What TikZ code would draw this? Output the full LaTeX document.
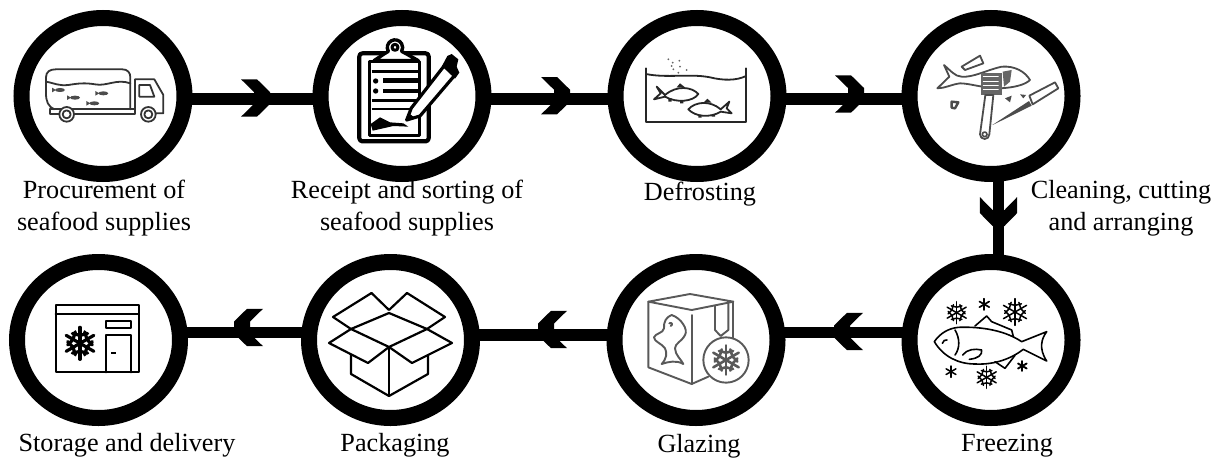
\documentclass[tikz,border=0pt]{standalone}
\usepackage{fontspec}
\setmainfont{Liberation Serif}
\usetikzlibrary{shapes.geometric}
\tikzset{
  x=1pt,y=-1pt,
  stage/.style={draw=black,fill=white,ellipse,line width=16pt,minimum width=163pt,minimum height=156pt,inner sep=0pt,outer sep=0pt},
  lab/.style={font=\fontsize{26.2}{32}\selectfont,align=center,inner sep=0pt,text=black},
  conn/.style={line width=11.7pt,draw=black},
  chev/.pic={\fill[black] (0,-18.7)--(13,-6)--(13,6)--(0,18.7)--(16,18.7)--(29,6)--(29,-6)--(16,-18.7)--cycle;},
  icon/.style={x=.33333pt,y=-.33333pt,line join=round,line cap=round},
}
\newcommand{\myflake}[5]{% x y r lw colour
 \begin{scope}[shift={(#1,#2)}]
  \foreach \a in {30,90,150,210,270,330}{
   \draw[#5,line width=#4pt] (0,0)--(\a:#3);
   \draw[#5,line width=#4pt] (\a-38:{0.78*#3})--(\a:{0.5*#3})--(\a+38:{0.78*#3});
  }
 \end{scope}}
\newcommand{\mystar}[4]{%
 \begin{scope}[shift={(#1,#2)}]
  \foreach \a in {30,90,150}{\draw[black,line width=#4pt] (\a:#3)--(\a+180:#3);}
 \end{scope}}
\begin{document}
\begin{tikzpicture}
\useasboundingbox (0,0) rectangle (1230,460);
\fill[white] (0,0) rectangle (1230,460);
% stages
\node[stage] (c1) at (103,96) {};
\node[stage] (c2) at (402,96) {};
\node[stage] (c3) at (697,96) {};
\node[stage] (c4) at (991,96) {};
\node[stage] (c5) at (991,340) {};
\node[stage] (c6) at (696,340) {};
\node[stage] (c7) at (390.5,340) {};
\node[stage] (c8) at (98.5,340) {};
% labels
\node[lab] (l1) at (104,208.5) {Procurement of\\seafood supplies};
\node[lab] (l2) at (407,208.5) {Receipt and sorting of\\seafood supplies};
\node[lab] (l3) at (700,194) {Defrosting};
\node[lab] (l4) at (1121,208.5) {Cleaning, cutting\\and arranging};
\node[lab] (l5) at (1007,446) {Freezing};
\node[lab] (l6) at (699,446) {Glazing};
\node[lab] (l7) at (395,445) {Packaging};
\node[lab] (l8) at (127,445) {Storage and delivery};
% connectors
\draw[conn] ([shift={(-2pt,-3pt)}]c1.east)--([shift={(2pt,-3pt)}]c2.west);
\draw[conn] ([shift={(-2pt,-3pt)}]c2.east)--([shift={(2pt,-3pt)}]c3.west);
\draw[conn] ([shift={(-2pt,-3pt)}]c3.east)--([shift={(2pt,-3pt)}]c4.west);
\draw[conn] ([shift={(7.5pt,2pt)}]c4.south)--([shift={(7.5pt,-2pt)}]c5.north);
\draw[conn] ([shift={(2pt,7.5pt)}]c5.west)--([shift={(-2pt,7.5pt)}]c6.east);
\draw[conn] ([shift={(2pt,5pt)}]c6.west)--([shift={(-2pt,5pt)}]c7.east);
\draw[conn] ([shift={(2pt,7.5pt)}]c7.west)--([shift={(-2pt,7.5pt)}]c8.east);
\pic at (241,98) {chev};
\pic at (541,95.7) {chev};
\pic at (835,94) {chev};
\pic[rotate=-90] at (998.5,197) {chev};
\pic[rotate=180] at (863,331.5) {chev};
\pic[rotate=180] at (567,329.5) {chev};
\pic[rotate=180] at (263,327.5) {chev};
% truck
\begin{scope}[shift={(35,50)},icon]
 \begin{scope}[line width=1.8pt]
 \draw[black!80] (33,95)--(33,82) .. controls (33,65) and (45,58) .. (62,58)--(262,58) .. controls (278,58) and (286,68) .. (286,82)--(286,178);
 \draw[black!80] (33,95)--(33,130) .. controls (33,155) and (40,170) .. (58,178);
 \draw[black!80] (33,95) .. controls (60,100) and (70,108) .. (100,105) .. controls (130,100) and (150,98) .. (180,103) .. controls (215,110) and (245,85) .. (286,100);
 \draw[black!80] (45,178)--(300,178)--(300,192)--(45,192)--cycle;
 \draw[black!80] (300,178)--(300,88)--(358,88)--(385,135)--(385,190)--(362,190);
 \draw[black!80] (313,105)--(345,105)--(358,140)--(313,140)--cycle;
 \end{scope}
 \foreach \p in {(75,120),(120,143),(205,130),(178,160)}{
  \fill[black!70] \p ellipse (15 and 6);
  \fill[black!70] \p ++(-24,-7)--++(12,7)--++(-12,7)--cycle;
 }
 \foreach \p in {(95,193),(340,193)}{
  \fill[white] \p circle (23);
  \draw[black!80,line width=1.8pt] \p circle (22);
  \draw[black!80,line width=1.8pt] \p circle (12);
 }
\end{scope}
% clipboard
\begin{scope}[shift={(340,30)},icon]
 \draw[black,line width=4.2pt,rounded corners=3pt] (58,70) rectangle (266,334);
 \draw[black,line width=2.6pt] (88,95) rectangle (238,316);
 \filldraw[black,fill=white,line width=3.4pt] (102,92)--(132,72)--(145,64) arc (150:390:23) --(200,72)--(235,92)--cycle;
 \filldraw[black,fill=white,line width=3pt] (165,52) circle (9);
 \foreach \y/\l/\w in {125/95/2.6,152/130/5,183/130/3.4,212/95/2.8,237/95/2.8}{\draw[black,line width=\w pt,line cap=butt] (\l,\y)--(235,\y);}
 \fill[black] (107,153) circle (8) (107,183) circle (8);
 \fill[black] (92,282)--(120,262)--(150,277)--(190,280)--(205,290)--(160,288)--(125,296)--(98,302)--cycle;
 \filldraw[black,fill=white,line width=3.2pt] (200,270)--(214,234)--(312,108)--(345,135)--(240,258)--cycle;
 \fill[black] (198,274)--(207,250)--(224,263)--cycle;
 \fill[black] (306,108)--(322,78)--(335,72)--(355,88)--(350,110)--(358,128)--(345,146)--cycle;
\end{scope}
% defrosting tank
\begin{scope}[shift={(630,50)},icon]
 \draw[black!85,line width=1.8pt] (48,55)--(48,215)--(348,215)--(348,55);
 \draw[black!85,line width=1.8pt] (48,72) .. controls (110,85) and (180,70) .. (240,82) .. controls (280,92) and (320,92) .. (348,78);
 \foreach \p in {(115,28),(128,38),(148,32),(130,58),(150,50),(170,60),(145,68),(125,48)}{\fill[black!60] \p circle (3);}
 \draw[black!85,line width=1.8pt] (205,132) .. controls (185,110) and (140,105) .. (105,135)--(80,110)--(92,130)--(72,148)--(105,140) .. controls (140,160) and (190,155) .. (205,132)--cycle;
 \fill[black!85] (140,112)--(150,100)--(165,112)--cycle (115,145) rectangle (125,155) (150,152) rectangle (160,160);
 \draw[black!85,line width=1.8pt] (175,178) .. controls (195,155) and (240,150) .. (272,178)--(298,155)--(290,175)--(305,190)--(272,185) .. controls (240,205) and (195,200) .. (175,178)--cycle;
 \fill[black!85] (220,158)--(232,146)--(245,158)--cycle (205,195) rectangle (215,203) (245,193) rectangle (255,200);
\end{scope}
% cleaning
\begin{scope}[shift={(930,45)},icon]
 \draw[black!70,line width=1.8pt] (22,130)--(58,95)--(42,60) .. controls (60,75) and (75,95) .. (95,95) .. controls (130,98) and (170,75) .. (215,65) .. controls (255,62) and (285,80) .. (300,105) .. controls (285,120) and (250,128) .. (210,130) .. controls (160,130) and (120,115) .. (90,115) .. controls (65,118) and (45,130) .. (22,130)--cycle;
 \draw[black!70,line width=1.8pt] (95,65)--(150,32)--(160,55)--(105,75)--cycle;
 \fill[black!60] (152,84) rectangle (215,150);
 \foreach \y in {95,108,121,134}{\draw[white,line width=.8pt] (160,\y)--(205,\y);}
 \fill[black!60] (218,80)--(245,75)--(240,110)--(222,125)--cycle;
 \draw[black!70,line width=1.8pt,fill=white] (166,150)--(150,268) arc (180:0:14)--(190,150)--cycle;
 \draw[black!70,line width=1.6pt] (164,268) circle (7);
 \fill[black!70] (187,240)--(297,168)--(305,182)--(192,238)--cycle;
 \draw[black!70,line width=1.8pt,fill=white] (298,152)--(375,112)--(385,130)--(308,178)--cycle;
 \draw[black!70,line width=2.4pt] (65,170)--(85,172)--(75,190)--(65,188)--cycle;
 \fill[black!70] (225,160)--(245,152)--(240,172)--cycle (270,148)--(288,150)--(280,160)--cycle;
\end{scope}
% storage
\begin{scope}[shift={(40,290)},icon]
 \draw[black,line width=1.9pt,line cap=butt] (47,45) rectangle (297,247);
 \draw[black,line width=1.9pt] (47,72)--(297,72);
 \draw[black,line width=1.9pt] (197,247)--(197,135)--(272,135)--(272,247);
 \draw[black,line width=1.7pt] (197,92) rectangle (272,115);
 \fill[black] (213,186) rectangle (228,192);
 \myflake{120}{160}{48}{3.2}{black}
\end{scope}
% packaging
\begin{scope}[line width=2.2pt,line join=round]
 \draw[black] (351,355)--(351,374)--(389,396)--(428,374)--(428,355);
 \draw[black] (389,347)--(389,396);
 \draw[black] (389,313)--(351,329)--(389,347)--(427,329)--cycle;
 \draw[black] (389,310)--(371.5,293)--(333,317)--(351,329);
 \draw[black] (389,310)--(407,293)--(445,317)--(427,329);
 \draw[black] (351,329)--(329,343)--(368,363)--(389,347);
 \draw[black] (427,329)--(452,343)--(412,363)--(389,347);
\end{scope}
% glazing
\begin{scope}[shift={(630,280)},icon]
 \begin{scope}[line width=1.9pt,line join=round]
 \draw[black!65] (55,65)--(180,42)--(310,65)--(185,90)--cycle;
 \draw[black!65] (55,65)--(55,262)--(185,312)--(235,290);
 \draw[black!65] (185,105)--(185,312);
 \draw[black!65] (310,65)--(310,190);
 \draw[black!65] (255,78)--(255,150)--(272,168)--(295,150)--(295,70);
 \draw[black!65] (125,105) .. controls (155,115) and (175,150) .. (165,165) .. controls (155,185) and (135,190) .. (135,205) .. controls (135,225) and (155,240) .. (160,252) .. controls (140,240) and (115,245) .. (95,252) .. controls (110,235) and (112,220) .. (105,205) .. controls (95,190) and (72,185) .. (72,172) .. controls (75,160) and (100,160) .. (102,145) .. controls (100,125) and (110,110) .. (125,105)--cycle;
 \draw[black!65] (118,130) .. controls (125,125) and (130,135) .. (122,138);
 \draw[black!65,fill=white] (288,240) circle (68);
 \end{scope}
 \myflake{288}{240}{44}{2.6}{black!65}
\end{scope}
% freezing
\begin{scope}[shift={(925,290)},icon,line width=1.6pt]
 \draw[black] (28,155) .. controls (45,130) and (70,115) .. (100,112) .. controls (150,110) and (230,115) .. (290,155)--(365,125) .. controls (350,145) and (340,175) .. (365,213)--(295,178) .. controls (260,205) and (210,225) .. (150,222) .. controls (100,222) and (55,200) .. (28,155)--cycle;
 \draw[black] (90,120) .. controls (105,145) and (105,175) .. (90,195);
 \draw[black] (52,160) .. controls (55,152) and (60,148) .. (66,150);
 \draw[black] (150,108)--(185,78)--(200,95)--(260,120)--(265,140);
 \draw[black] (210,215)--(240,235)--(270,196);
 \draw[black] (113,195) .. controls (125,178) and (150,175) .. (170,180) .. controls (172,195) and (160,205) .. (133,208);
 \myflake{95}{68}{33}{1.5}{black}
 \myflake{270}{66}{40}{1.5}{black}
 \myflake{185}{262}{33}{1.5}{black}
 \mystar{178}{43}{17}{1.7}
 \mystar{78}{245}{17}{1.5}
 \mystar{292}{228}{15}{1.9}
\end{scope}
\end{tikzpicture}
\end{document}
